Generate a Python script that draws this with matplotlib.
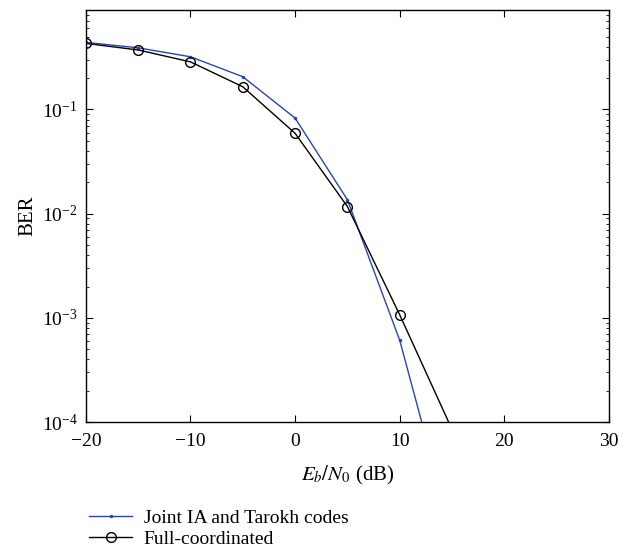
import numpy as np
import matplotlib.pyplot as plt

plt.rcParams['font.family'] = 'Liberation Serif'
plt.rcParams['mathtext.fontset'] = 'stix'

# Eb/N0 in dB
snr = [-20, -15, -10, -5, 0, 5, 10, 15]
# BER for the two schemes
ber_joint = [0.44, 0.39, 0.32, 0.206, 0.0826, 0.0136, 6.1e-4, 8.3e-6]
ber_full = [0.43, 0.372, 0.286, 0.165, 0.059, 0.0117, 1.07e-3, 8.5e-5]

fig = plt.figure(figsize=(6.36, 5.54), dpi=100)
ax = fig.add_axes([0.135, 0.238, 0.8225, 0.744])

l1, = ax.semilogy(snr, ber_joint, color='#2a45b0', lw=1.0, marker='.', ms=3,
                  label='Joint IA and Tarokh codes')
l2, = ax.semilogy(snr, ber_full, color='black', lw=1.0, marker='o', ms=7,
                  mfc='none', mew=1.0, label='Full-coordinated')

ax.set_xlim(-20, 30)
ax.set_ylim(1e-4, 0.9)
ax.set_xticks([-20, -10, 0, 10, 20, 30])
ax.set_xticklabels(['\u221220', '\u221210', '0', '10', '20', '30'])
ax.tick_params(which='both', direction='in', top=True, right=True, labelsize=14)
ax.tick_params(axis='x', pad=8)
ax.tick_params(axis='y', pad=6)
ax.tick_params(which='major', length=5)
ax.tick_params(which='minor', length=2.5)
ax.minorticks_on()
ax.xaxis.set_minor_locator(plt.NullLocator())
for s in ax.spines.values():
    s.set_linewidth(1.0)

ax.set_xlabel('$E_b/N_0$ (dB)', fontsize=15, labelpad=10)
ax.set_ylabel('BER', fontsize=15, labelpad=3)

fig.legend(handles=[l1, l2], loc='upper left', bbox_to_anchor=(0.128, 0.095),
           frameon=False, fontsize=14, handlelength=2.2, handletextpad=0.6,
           labelspacing=0.2, borderaxespad=0)

plt.savefig('out.png')
